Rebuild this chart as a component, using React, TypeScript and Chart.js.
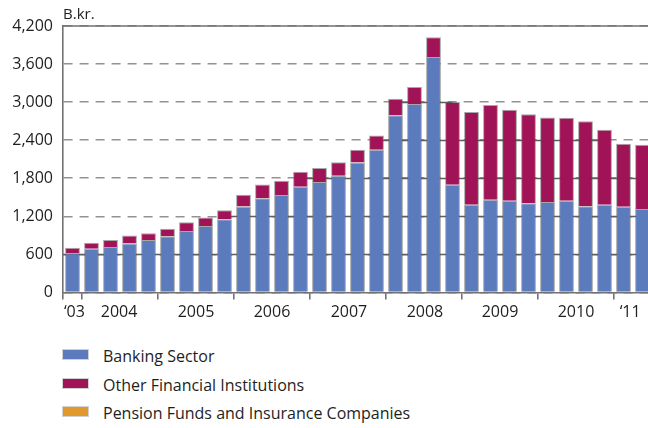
import React, { useEffect, useRef } from "react";
import { Chart, registerables } from "chart.js";

Chart.register(...registerables);

const quarters = [
  "2003Q4",
  "2004Q1", "2004Q2", "2004Q3", "2004Q4",
  "2005Q1", "2005Q2", "2005Q3", "2005Q4",
  "2006Q1", "2006Q2", "2006Q3", "2006Q4",
  "2007Q1", "2007Q2", "2007Q3", "2007Q4",
  "2008Q1", "2008Q2", "2008Q3", "2008Q4",
  "2009Q1", "2009Q2", "2009Q3", "2009Q4",
  "2010Q1", "2010Q2", "2010Q3", "2010Q4",
  "2011Q1", "2011Q2",
];

const banking = [
  620, 690, 718, 771, 829, 887, 971, 1050, 1156, 1355, 1487, 1535, 1666, 1742,
  1840, 2050, 2250, 2792, 2971, 3713, 1697, 1382, 1461, 1445, 1408, 1426, 1445,
  1360, 1382, 1352, 1316,
];

const otherFin = [
  87, 96, 111, 126, 106, 116, 137, 131, 142, 185, 216, 226, 237, 221, 212, 200,
  226, 263, 269, 310, 1306, 1463, 1495, 1437, 1400, 1332, 1310, 1337, 1184, 993,
  1013,
];

const pension = [
  0, 0, 0, 0, 0, 0, 0, 0, 0, 0, 0, 0, 0, 0, 0, 0, 0, 0, 0, 0, 0, 0, 0, 0, 0, 0,
  0, 0, 0, 0, 0,
];

const seriesNames = [
  "Banking Sector",
  "Other Financial Institutions",
  "Pension Funds and Insurance Companies",
];
const seriesColors = ["#5b7bbd", "#a01356", "#e2992c"];

const yTicksMax = 4200;
const yTickStep = 600;

// year boundaries / labels in category-index units
const yearBoundaries = [-0.5, 0.5, 4.5, 8.5, 12.5, 16.5, 20.5, 24.5, 28.5];
const yearLabels = ["\u201803", "2004", "2005", "2006", "2007", "2008", "2009", "2010", "\u201811"];
const yearLabelPos = [0.1, 2.45, 6.5, 10.5, 14.55, 18.55, 22.5, 26.5, 29.35];

const FONT = "'Open Sans', 'Noto Sans', sans-serif";

const gridSolid = {
  id: "gridSolid",
  beforeDatasetsDraw(chart: any) {
    const { ctx, chartArea, scales } = chart;
    const x = scales.x;
    const y = scales.y;
    const n = banking.length;
    const totals = banking.map((b, i) => b + otherFin[i] + pension[i]);
    ctx.save();
    ctx.strokeStyle = "#5e5e5e";
    ctx.lineWidth = 1.5;
    for (const t of y.ticks) {
      const v = t.value;
      if (v <= 0 || v >= yTicksMax) continue;
      const py = Math.round(y.getPixelForValue(v)) + 0.5;
      let i = 0;
      while (i < n) {
        if (totals[i] > v) {
          let j = i;
          while (j + 1 < n && totals[j + 1] > v) j++;
          const x0 = i === 0 ? chartArea.left : x.getPixelForValue(i);
          const x1 = j === n - 1 ? chartArea.right : x.getPixelForValue(j);
          if (x1 > x0) {
            ctx.beginPath();
            ctx.moveTo(x0, py);
            ctx.lineTo(x1, py);
            ctx.stroke();
          }
          i = j + 1;
        } else i++;
      }
    }
    // solid top frame line
    ctx.strokeStyle = "#6f6f6f";
    ctx.lineWidth = 1.6;
    const ty = y.getPixelForValue(yTicksMax);
    ctx.beginPath();
    ctx.moveTo(chartArea.left, ty);
    ctx.lineTo(chartArea.right, ty);
    ctx.stroke();
    ctx.restore();
  },
};

export default function App() {
  const canvasRef = useRef<HTMLCanvasElement | null>(null);

  useEffect(() => {
    if (!canvasRef.current) return;
    const border = "rgba(95,95,95,0.55)";
    const chart = new Chart(canvasRef.current, {
      type: "bar",
      data: {
        labels: quarters,
        datasets: [
          { label: seriesNames[0], data: banking, backgroundColor: seriesColors[0], borderColor: border, borderWidth: 1 },
          { label: seriesNames[1], data: otherFin, backgroundColor: seriesColors[1], borderColor: border, borderWidth: 1 },
          { label: seriesNames[2], data: pension, backgroundColor: seriesColors[2], borderColor: border, borderWidth: 0 },
        ],
      },
      options: {
        animation: false,
        responsive: true,
        maintainAspectRatio: false,
        layout: { padding: { top: 26, right: 8, left: 0, bottom: 0 } },
        datasets: { bar: { barPercentage: 0.78, categoryPercentage: 1 } },
        plugins: { legend: { display: false }, tooltip: { enabled: false }, title: { display: false } },
        scales: {
          x: { type: "category", stacked: true, display: false },
          y: {
            stacked: true,
            min: 0,
            max: yTicksMax,
            afterFit: (s: any) => {
              s.width = 63;
            },
            ticks: {
              stepSize: yTickStep,
              padding: 10,
              color: "#1e1e1e",
              font: { family: FONT, size: 16 },
              callback: (v: any) => Number(v).toLocaleString("en-US"),
            },
            grid: { color: "#939393", lineWidth: 1.6, drawTicks: false },
            border: { display: true, color: "#727272", width: 1.6, dash: [9, 7] },
          },
          xt: {
            type: "linear",
            position: "bottom",
            offset: false,
            min: -0.5,
            max: quarters.length - 0.5,
            weight: 0,
            afterBuildTicks: (s: any) => {
              s.ticks = yearBoundaries.map((v) => ({ value: v }));
            },
            afterFit: (s: any) => {
              s.height = 1;
            },
            ticks: { display: false },
            grid: { offset: false, drawOnChartArea: false, drawTicks: true, tickLength: 7, color: "#727272", lineWidth: 1.6 },
            border: { display: true, color: "#727272", width: 1.6 },
          },
          xl: {
            type: "linear",
            position: "bottom",
            offset: false,
            min: -0.5,
            max: quarters.length - 0.5,
            weight: 1,
            afterBuildTicks: (s: any) => {
              s.ticks = yearLabelPos.map((v) => ({ value: v }));
            },
            afterFit: (s: any) => {
              s.height = 36.5;
            },
            ticks: {
              padding: 1,
              autoSkip: false,
              maxRotation: 0,
              color: "#1e1e1e",
              font: { family: FONT, size: 16 },
              callback: (_v: any, i: number) => yearLabels[i],
            },
            grid: { display: false, offset: false },
            border: { display: false },
          },
        },
      },
      plugins: [gridSolid],
    } as any);
    return () => chart.destroy();
  }, []);

  return (
    <div
      style={{
        position: "fixed",
        left: 0,
        top: 0,
        width: 648,
        height: 428,
        overflow: "hidden",
        background: "#fff",
        fontFamily: FONT,
        color: "#1e1e1e",
      }}
    >
      <div style={{ position: "absolute", left: 0, top: 0, width: 660, height: 330 }}>
        <canvas ref={canvasRef} />
      </div>
      <div style={{ position: "absolute", left: 63, top: 3, fontSize: 15, lineHeight: "20px" }}>B.kr.</div>
      <div style={{ position: "absolute", left: 63, top: 342 }}>
        {seriesNames.map((name, i) => (
          <div key={name} style={{ display: "flex", alignItems: "center", height: 28.5 }}>
            <span
              style={{
                display: "inline-block",
                width: 25,
                height: 9,
                background: seriesColors[i],
                boxShadow: "0 0 0 1px rgba(0,0,0,0.18)",
                marginRight: 15,
                marginTop: -3,
              }}
            />
            <span style={{ fontSize: 16, lineHeight: "20px" }}>{name}</span>
          </div>
        ))}
      </div>
    </div>
  );
}
